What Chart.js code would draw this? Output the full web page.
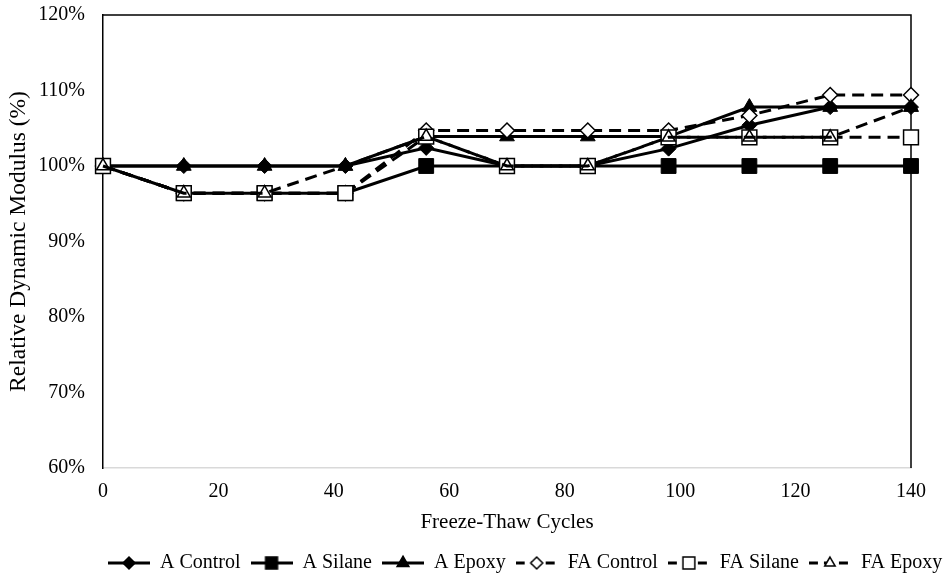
<!DOCTYPE html>
<html>
<head>
<meta charset="utf-8">
<script src="https://cdn.jsdelivr.net/npm/chart.js@4.4.1/dist/chart.umd.min.js"></script>
<style>
  html, body { margin: 0; padding: 0; background: #fff; }
</style>
</head>
<body>
<canvas id="myChart" width="949" height="576"></canvas>
<script>
// freeze-thaw cycles and relative dynamic modulus (%) per specimen group
const cycles = [0, 14, 28, 42, 56, 70, 84, 98, 112, 126, 140];
const aControl = [100, 100, 100, 100, 102.4, 100, 100, 102.3, 105.4, 107.8, 107.8];
const aSilane = [100, 96.4, 96.4, 96.4, 100, 100, 100, 100, 100, 100, 100];
const aEpoxy = [100, 100, 100, 100, 103.9, 103.9, 103.9, 103.9, 107.8, 107.8, 107.8];
const faControl = [100, 96.4, 96.4, 96.4, 104.7, 104.7, 104.7, 104.7, 106.7, 109.4, 109.4];
const faSilane = [100, 96.4, 96.4, 96.4, 103.9, 100, 100, 103.8, 103.8, 103.8, 103.8];
const faEpoxy = [100, 96.4, 96.4, 100, 103.9, 100, 100, 103.8, 103.8, 103.8, 107.8];
const seriesNames = ["A Control", "A Silane", "A Epoxy", "FA Control", "FA Silane", "FA Epoxy"];
const yTicks = [60, 70, 80, 90, 100, 110, 120];
const xTicks = [0, 20, 40, 60, 80, 100, 120, 140];

const FONT = "'Liberation Serif', 'Times New Roman', serif";
Chart.defaults.font.family = FONT;
Chart.defaults.font.size = 20;
Chart.defaults.color = "#000";

// marker look for each series: [pointStyle, radius, fill, dashed]
const looks = [
	["rectRot", 7.5, "#000", false],
	["rect", 10.5, "#000", false],
	["triangle", 8.5, "#000", false],
	["rectRot", 7.5, "#fff", true],
	["rect", 10.5, "#fff", true],
	["triangle", 7.5, "rgba(0,0,0,0)", true]
];

const values = [aControl, aSilane, aEpoxy, faControl, faSilane, faEpoxy];

const datasets = values.map((vals, i) => {
	const [style, radius, fill, dashed] = looks[i];
	return {
		label: seriesNames[i],
		data: cycles.map((c, k) => ({ x: c, y: vals[k] })),
		borderColor: "#000",
		borderWidth: 3,
		borderDash: dashed ? [12, 7] : [],
		pointStyle: style,
		pointRadius: radius,
		pointBackgroundColor: fill,
		pointBorderColor: "#000",
		pointBorderWidth: fill === "#000" ? 1 : 1.5,
		tension: 0,
		clip: false,
		order: values.length - i
	};
});

const SYM_W = 42;

// line + marker swatch for the legend
function legendSymbol(i) {
	const [style, radius, fill, dashed] = looks[i];
	const c = document.createElement("canvas");
	c.width = SYM_W;
	c.height = 20;
	const g = c.getContext("2d");
	g.strokeStyle = "#000";
	g.lineWidth = 3;
	if (dashed) g.setLineDash([9, 6]);
	g.beginPath();
	g.moveTo(0, 10);
	g.lineTo(SYM_W, 10);
	g.stroke();
	g.setLineDash([]);
	g.fillStyle = fill === "rgba(0,0,0,0)" ? "#fff" : fill;
	g.lineWidth = 1.5;
	Chart.helpers.drawPoint(g, { pointStyle: style, radius: radius * 0.8, borderWidth: 1.5 }, SYM_W / 2, 10);
	return c;
}

const frame = {
	id: "frame",
	beforeDatasetsDraw(chart) {
		const { ctx, chartArea: a } = chart;
		ctx.save();
		ctx.strokeStyle = "#000";
		ctx.lineWidth = 1.5;
		ctx.beginPath();
		ctx.moveTo(a.left, a.top);
		ctx.lineTo(a.right, a.top);
		ctx.lineTo(a.right, a.bottom);
		ctx.stroke();
		ctx.restore();
	}
};

// sit the legend row under the axis title, offset to the right
const LEGEND_PAD = 10;
const legendPlace = {
	id: "legendPlace",
	afterLayout(chart) {
		const lg = chart.legend;
		if (!lg || !lg.lineWidths) return;
		const x0 = (lg.left + LEGEND_PAD + lg.right - lg.lineWidths[0]) / 2;
		const dx = 108 - x0;
		const dy = 563 - (lg.top + LEGEND_PAD + 10);
		lg.left += dx; lg.right += dx;
		lg.top += dy; lg.bottom += dy;
	}
};

new Chart(document.getElementById("myChart"), {
	type: "line",
	data: { datasets },
	plugins: [frame, legendPlace],
	options: {
		responsive: false,
		animation: false,
		layout: { autoPadding: false, padding: { left: 0, right: 38, top: 15, bottom: 0 } },
		scales: {
			x: {
				type: "linear",
				min: 0,
				max: 140,
				afterBuildTicks: (s) => { s.ticks = xTicks.map(v => ({ value: v })); },
				afterFit: (s) => { s.height = 68; },
				grid: { display: false, drawTicks: false },
				border: { color: "#d9d9d9", width: 1.5 },
				ticks: { padding: 12, color: "#000" },
				title: { display: true, text: "Freeze-Thaw Cycles", font: { size: 21 }, padding: { top: 0, bottom: 1 } }
			},
			y: {
				min: 60,
				max: 120,
				afterBuildTicks: (s) => { s.ticks = yTicks.map(v => ({ value: v })); },
				afterFit: (s) => { s.width = 103; s.paddingTop = 0; s.paddingBottom = 0; },
				grid: { display: false, drawTicks: false },
				border: { color: "#000", width: 1.5 },
				ticks: { padding: 18, color: "#000", callback: (v) => v + "%" },
				title: { display: true, text: "Relative Dynamic Modulus (%)", font: { size: 23.5 }, padding: { top: 5, bottom: 0 } }
			}
		},
		plugins: {
			legend: {
				position: "bottom",
				labels: {
					usePointStyle: true,
					pointStyleWidth: SYM_W,
					padding: LEGEND_PAD,
					color: "#000",
					sort: (a, b) => a.datasetIndex - b.datasetIndex,
					generateLabels: (chart) => {
						const items = Chart.defaults.plugins.legend.labels.generateLabels(chart);
						items.forEach((it) => { it.pointStyle = legendSymbol(it.datasetIndex); });
						return items;
					}
				}
			},
			tooltip: { enabled: false }
		}
	}
});
</script>
</body>
</html>
